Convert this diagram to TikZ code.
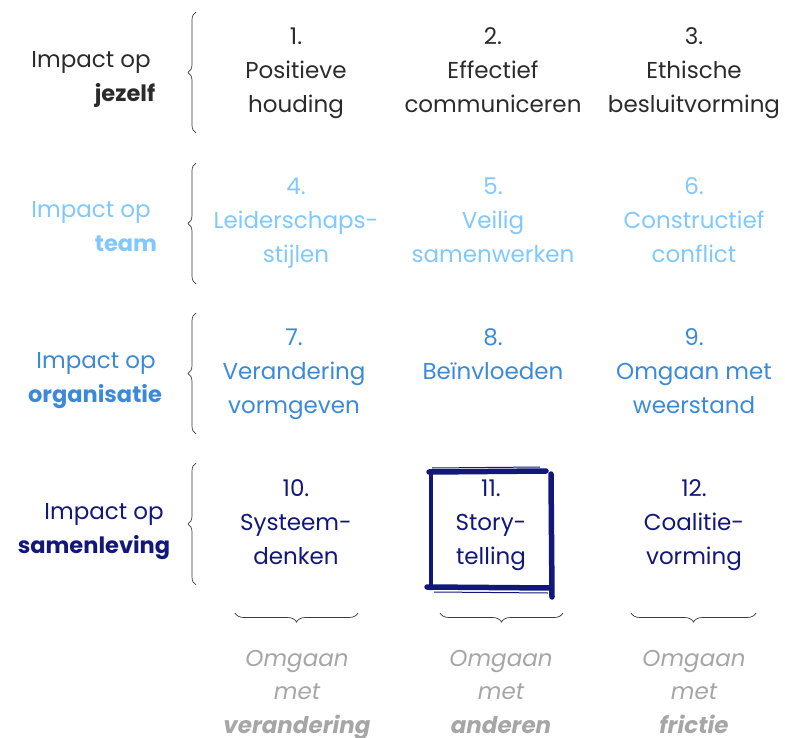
\documentclass[tikz,border=0pt]{standalone}
\usepackage{fontspec}
\setmainfont{Poppins}
\usetikzlibrary{decorations.pathreplacing}
\definecolor{cOne}{HTML}{2B2B2B}
\definecolor{cTwo}{HTML}{80C8FF}
\definecolor{cThree}{HTML}{3B8AD9}
\definecolor{cFour}{HTML}{12187A}
\definecolor{cGrey}{HTML}{A6A6A6}
\definecolor{cBrace}{HTML}{3A3A3A}
\newcommand\mycell[7]{%
  \node[txt,text=#4] (#1-a) at (#2,#3) {#5};
  \node[txt,text=#4] (#1-b) at (#2,#3+34) {#6};
  \node[txt,text=#4] (#1-c) at (#2,#3+68) {#7};}
\begin{document}
\begin{tikzpicture}[x=1pt,y=-1pt,
  txt/.style={anchor=base,inner sep=0pt,font=\fontsize{23}{28}\selectfont},
  btxt/.style={anchor=base,inner sep=0pt,font=\fontsize{22.5}{28}\selectfont\bfseries},
  itxt/.style={anchor=base,inner sep=0pt,text=cGrey,font=\fontsize{23}{28}\selectfont\itshape},
  bitxt/.style={anchor=base,inner sep=0pt,text=cGrey,font=\fontsize{23}{28}\selectfont\bfseries\itshape},
  vbrace/.style={draw=cBrace,line width=0.7pt,decorate,decoration={brace,amplitude=8pt}},
  hbrace/.style={draw=cBrace,line width=0.7pt,decorate,decoration={brace,amplitude=9pt}},
  hand/.style={draw=cFour,line width=5.5pt,line cap=round}]
\useasboundingbox (0,0) rectangle (785,738);
% left labels
\node[txt,text=cOne] (l1a) at (91,68) {Impact op};
\node[btxt,text=cOne] (l1b) at (125,102) {jezelf};
\node[txt,text=cTwo] (l2a) at (91,218) {Impact op};
\node[btxt,text=cTwo] (l2b) at (126,252) {team};
\node[txt,text=cThree] (l3a) at (96,368) {Impact op};
\node[btxt,text=cThree] (l3b) at (95,402) {organisatie};
\node[txt,text=cFour] (l4a) at (104,519) {Impact op};
\node[btxt,text=cFour] (l4b) at (94,553) {samenleving};
% braces
\coordinate (b1t) at (196,12);  \coordinate (b1b) at (196,133);
\coordinate (b2t) at (196,163); \coordinate (b2b) at (196,284);
\coordinate (b3t) at (196,313); \coordinate (b3b) at (196,434);
\coordinate (b4t) at (196,463); \coordinate (b4b) at (196,585);
\draw[vbrace] (b1b) -- (b1t);
\draw[vbrace] (b2b) -- (b2t);
\draw[vbrace] (b3b) -- (b3t);
\draw[vbrace] (b4b) -- (b4t);
% grid
\mycell{c1}{296}{45}{cOne}{1.}{Positieve}{houding}
\mycell{c2}{493}{45}{cOne}{2.}{Effectief}{communiceren}
\mycell{c3}{694}{45}{cOne}{3.}{Ethische}{besluitvorming}
\mycell{c4}{296}{195}{cTwo}{4.}{Leiderschaps-}{stijlen}
\mycell{c5}{493}{195}{cTwo}{5.}{Veilig}{samenwerken}
\mycell{c6}{694}{195}{cTwo}{6.}{Constructief}{conflict}
\mycell{c7}{294}{345}{cThree}{7.}{Verandering}{vormgeven}
\mycell{c8}{493}{345}{cThree}{8.}{Beïnvloeden}{}
\mycell{c9}{694}{345}{cThree}{9.}{Omgaan met}{weerstand}
\mycell{c10}{296}{496}{cFour}{10.}{Systeem-}{denken}
\mycell{c11}{491}{496}{cFour}{11.}{Story-}{telling}
\mycell{c12}{694}{496}{cFour}{12.}{Coalitie-}{vorming}
% hand drawn box
\coordinate (h1) at (429,472); \coordinate (h2) at (546,471);
\coordinate (h3) at (551,474); \coordinate (h4) at (552,597);
\coordinate (h5) at (431,474); \coordinate (h6) at (431,588);
\coordinate (h7) at (427,587); \coordinate (h8) at (551,588);
\draw[hand] (h1) -- (h2);
\draw[hand] (h3) -- (h4);
\draw[hand,line width=4.5pt] (h5) -- (h6);
\draw[hand] (h7) -- (h8);
\draw[draw=cFour,line width=1pt] (432,468) -- (540,467);
\draw[draw=cFour,line width=1pt] (434,592) -- (548,593);
% bottom braces
\coordinate (u1l) at (235,613); \coordinate (u1r) at (358,613);
\coordinate (u2l) at (440,613); \coordinate (u2r) at (563,613);
\coordinate (u3l) at (631,613); \coordinate (u3r) at (756,613);
\draw[hbrace] (u1r) -- (u1l);
\draw[hbrace] (u2r) -- (u2l);
\draw[hbrace] (u3r) -- (u3l);
% bottom labels
\node[itxt] (o1a) at (297,666) {Omgaan};
\node[itxt] (o1b) at (297,699) {met};
\node[bitxt] (o1c) at (297,733) {verandering};
\node[itxt] (o2a) at (501,666) {Omgaan};
\node[itxt] (o2b) at (501,699) {met};
\node[bitxt] (o2c) at (501,733) {anderen};
\node[itxt] (o3a) at (694,666) {Omgaan};
\node[itxt] (o3b) at (694,699) {met};
\node[bitxt] (o3c) at (694,733) {frictie};
\end{tikzpicture}
\end{document}
